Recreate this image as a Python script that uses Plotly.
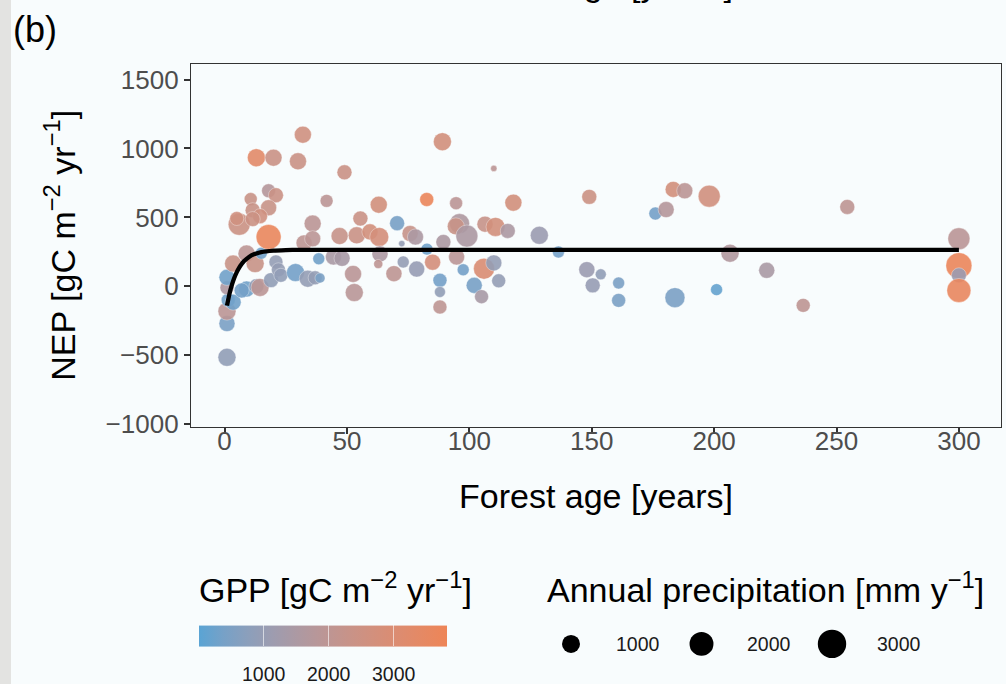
import plotly.graph_objects as go

# ---------------- data ----------------
forest_age = [1, 1, 1, 1.5, 3.5, 1, 1, 3.5, 9, 6, 12.5, 9, 7, 13, 14.5, 15, 18, 19, 21, 22,
              23, 29, 34, 37, 39, 38.5, 36, 32.5, 36, 44.5, 48, 47, 52.5, 53, 54, 55.5, 59.4, 63.2, 63, 63.5,
              62.8, 69.2, 70.5, 72.4, 73, 75.8, 78, 78.5, 82.7, 82.6, 85, 88, 88, 88, 89.4, 94.6, 96, 94.5,
              99, 97.5, 94.8, 102, 106, 110, 112, 105, 106.4, 110.7, 115.7, 110, 118, 89, 49, 32, 13, 20,
              30, 18, 21, 10.7, 18, 11.5, 41.7, 5, 14.5, 128.6, 136.4, 148, 153.7, 150.4, 161, 161, 184,
              201, 206.5, 221.5, 236.4, 300, 300, 300, 300, 149, 176, 180.4, 183.3, 188, 198, 254.4, 11.5]
nep = [-515, -270, -180, -100, -115, -10, 65, 165, 238, 450, 165, -20, -30, 0, -8, 240, 358, 45, 177, 120,
       80, 100, 55, 62, 60, 200, 455, 315, 345, 213, 203, 365, 90, -45, 370, 492, 395, 358, 592, 235,
       162, 92, 458, 310, 177, 383, 358, 125, 270, 630, 175, 44, -41, -150, 322, 603, 455, 435,
       365, 120, 213, 7, 128, 170, 40, -75, 451, 431, 402, 855, 607, 1049, 827, 1100, 933, 933,
       907, 693, 661, 633, 570, 552, 620, 492, 509, 370, 249, 121, 87, 7, 24, -102, -82,
       -24, 240, 116, -138, 345, 150, 80, -30, 649, 528, 557, 703, 693, 654, 576, 488]
gpp = [900, 450, 1950, 300, 300, 1600, 300, 2350, 1950, 2450, 2350, 300, 350, 900, 1950, 300, 3650, 900, 950, 950,
       900, 350, 950, 950, 450, 300, 1950, 2000, 1950, 1450, 1400, 2300, 1900, 1850, 2400, 2400, 2700, 2750, 2700, 1500,
       2000, 2000, 400, 950, 950, 2300, 1500, 1000, 300, 3700, 2750, 350, 900, 2000, 1500, 1950, 1550, 2350,
       1500, 350, 1900, 400, 3000, 950, 950, 1400, 2300, 2700, 1500, 1950, 2700, 2700, 2400, 2600, 3300, 2400,
       2400, 1750, 2400, 2350, 2350, 2350, 1950, 2600, 2600, 1100, 350, 1100, 900, 1000, 450, 450, 450,
       150, 1650, 1450, 2000, 1900, 3700, 1100, 3600, 2450, 350, 1750, 2700, 1950, 2650, 2000, 2450]
precip = [1000, 750, 1000, 530, 750, 530, 750, 870, 870, 1630, 1000, 750, 630, 630, 1000, 360, 2220, 630, 530, 530,
          530, 1000, 870, 530, 240, 360, 870, 750, 750, 750, 750, 870, 870, 1000, 870, 630, 750, 1140, 870, 750,
          190, 750, 630, 110, 360, 750, 750, 750, 360, 530, 750, 530, 290, 530, 630, 440, 1300, 870,
          1630, 360, 750, 750, 1460, 750, 530, 530, 750, 1140, 630, 110, 870, 1000, 630, 870, 1000, 870,
          870, 530, 630, 440, 750, 630, 440, 530, 630, 1000, 360, 750, 290, 630, 360, 530, 1300,
          360, 1000, 750, 530, 1630, 2440, 630, 2010, 630, 440, 750, 750, 750, 1630, 630, 630]

# fitted NEP–age curve
fit_age = [1, 2, 3, 4, 5, 6, 7, 8, 10, 12, 15, 20, 25, 30, 50, 300]
fit_nep = [-140, -55, 10, 62, 103, 136, 162, 183, 213, 232, 248, 259, 263, 265, 265, 265]

x_ticks = [0, 50, 100, 150, 200, 250, 300]
y_ticks = [-1000, -500, 0, 500, 1000, 1500]
gpp_ticks = [1000, 2000, 3000]
precip_legend = [1000, 2000, 3000]

# ---------------- styling ----------------
W, H = 1006, 684          # target picture; pixel positions below refer to it
H_LAYOUT = 698            # page height that gets photographed into 684 rows
VS = H_LAYOUT / H
BG = '#F8FCFD'
FONT = 'Liberation Sans, Arial, Helvetica, sans-serif'
GPP_MIN, GPP_MAX = 0, 3830
P_MIN, P_MAX = 100, 3300
LOW, HIGH = (90, 164, 212), (238, 133, 87)


def py(p):
    """pixel row in the target picture -> paper fraction"""
    return 1 - p / H


def size_of(p):
    t = max(0.0, (p - P_MIN) / (P_MAX - P_MIN))
    return 4.93 * (1 + 5 * t ** 0.5)


def srgb_to_lab(c):
    def lin(v):
        v = v / 255
        return v / 12.92 if v <= 0.04045 else ((v + 0.055) / 1.055) ** 2.4
    r, g, b = (lin(v) for v in c)
    X = (0.4124 * r + 0.3576 * g + 0.1805 * b) / 0.95047
    Y = (0.2126 * r + 0.7152 * g + 0.0722 * b)
    Z = (0.0193 * r + 0.1192 * g + 0.9505 * b) / 1.08883
    f = lambda t: t ** (1 / 3) if t > 0.008856 else 7.787 * t + 16 / 116
    fx, fy, fz = f(X), f(Y), f(Z)
    return 116 * fy - 16, 500 * (fx - fy), 200 * (fy - fz)


def lab_to_srgb(L, a, b):
    fy = (L + 16) / 116
    fx = fy + a / 500
    fz = fy - b / 200
    finv = lambda t: t ** 3 if t ** 3 > 0.008856 else (t - 16 / 116) / 7.787
    X, Y, Z = finv(fx) * 0.95047, finv(fy), finv(fz) * 1.08883
    r = 3.2406 * X - 1.5372 * Y - 0.4986 * Z
    g = -0.9689 * X + 1.8758 * Y + 0.0415 * Z
    bb = 0.0557 * X - 0.2040 * Y + 1.0570 * Z
    def gam(v):
        v = max(0.0, min(1.0, v))
        return 12.92 * v if v <= 0.0031308 else 1.055 * v ** (1 / 2.4) - 0.055
    return tuple(int(round(gam(v) * 255)) for v in (r, g, bb))


l0, l1 = srgb_to_lab(LOW), srgb_to_lab(HIGH)
colorscale = []
for i in range(11):
    t = i / 10
    lab = [l0[k] + (l1[k] - l0[k]) * t for k in range(3)]
    colorscale.append([t, 'rgb(%d,%d,%d)' % lab_to_srgb(*lab)])

fig = go.Figure()

fig.add_trace(go.Scatter(
    x=forest_age, y=nep, mode='markers',
    marker=dict(size=[size_of(p) for p in precip], sizemode='diameter',
                color=gpp, colorscale=colorscale, cmin=GPP_MIN, cmax=GPP_MAX,
                opacity=0.9, line=dict(width=0.7, color='rgba(255,255,255,0.55)'),
                showscale=True,
                colorbar=dict(orientation='h', x=199 / W, xanchor='left',
                              y=py(647) - 19 / H_LAYOUT, yanchor='bottom',
                              len=248, lenmode='pixels', thickness=21 * VS, thicknessmode='pixels',
                              outlinewidth=0, xpad=0, ypad=0,
                              tickvals=gpp_ticks, ticks='inside', ticklen=21 * VS, tickwidth=1,
                              tickcolor='rgba(255,255,255,0.6)', showticklabels=False)),
    showlegend=False, hoverinfo='skip'))

fig.add_trace(go.Scatter(x=fit_age, y=fit_nep, mode='lines',
                         line=dict(color='black', width=4.3, shape='spline', smoothing=0.6),
                         showlegend=False, hoverinfo='skip'))

# size legend keys
leg_x = [571 + i * 130.5 for i in range(len(precip_legend))]
fig.add_trace(go.Scatter(x=leg_x, y=[642] * len(leg_x), mode='markers', xaxis='x2', yaxis='y2',
                         marker=dict(size=[size_of(p) for p in precip_legend], sizemode='diameter',
                                     color='#000000', opacity=1, line=dict(width=0)),
                         showlegend=False, hoverinfo='skip'))

axis_common = dict(showgrid=False, zeroline=False, showline=True, linecolor='#333333', linewidth=1.3,
                   mirror=True, ticks='outside', ticklen=6, tickwidth=2, tickcolor='#333333',
                   tickfont=dict(family=FONT, size=26, color='#4D4D4D'))

fig.update_layout(
    width=W, height=H_LAYOUT, autosize=False, margin=dict(l=0, r=0, t=0, b=0),
    paper_bgcolor=BG, plot_bgcolor=BG,
    xaxis=dict(domain=[191 / W, 1001 / W], range=[-13.7, 317.2], tickvals=x_ticks,
               ticklabelstandoff=-15, **axis_common),
    yaxis=dict(domain=[py(425.7), py(63.5)], range=[-1020, 1615], tickvals=y_ticks, **axis_common),
    xaxis2=dict(domain=[530 / W, 1], range=[530, 1006], visible=False, anchor='y2', fixedrange=True),
    yaxis2=dict(domain=[py(684), py(584)], range=[684, 584], visible=False, anchor='x2', fixedrange=True),
    shapes=[dict(type='rect', xref='paper', yref='paper', x0=0, x1=11 / W, y0=0, y1=1,
                 fillcolor='#E3E3E1', line=dict(width=0), layer='below')],
)

ann = []
title_font = dict(family=FONT, size=34, color='black')
ann.append(dict(text='Forest age [years]', xref='paper', yref='paper', x=596 / W, y=py(495),
                xanchor='center', yanchor='middle', showarrow=False, font=title_font))
ann.append(dict(text='Forest age [years]', xref='paper', yref='paper', x=596 / W, y=py(-16),
                xanchor='center', yanchor='middle', showarrow=False, font=title_font))
ann.append(dict(text='NEP [gC m<sup>\u22122</sup> yr<sup>\u22121</sup>]', xref='paper', yref='paper',
                x=60 / W, y=py(245), xanchor='center', yanchor='middle', textangle=-90,
                showarrow=False, font=title_font))
ann.append(dict(text='(b)', xref='paper', yref='paper', x=11 / W, y=py(29),
                xanchor='left', yanchor='middle', showarrow=False,
                font=dict(family=FONT, size=36, color='black')))
ann.append(dict(text='GPP [gC m<sup>\u22122</sup> yr<sup>\u22121</sup>]', xref='paper', yref='paper',
                x=197 / W, y=py(586), xanchor='left', yanchor='middle', showarrow=False,
                font=title_font))
ann.append(dict(text='Annual precipitation [mm y<sup>\u22121</sup>]', xref='paper', yref='paper',
                x=545 / W, y=py(586), xanchor='left', yanchor='middle', showarrow=False,
                font=title_font))
label_font = dict(family=FONT, size=19.5, color='#1A1A1A')
for v in gpp_ticks:
    xp = 199.3 + (v - GPP_MIN) / (GPP_MAX - GPP_MIN) * 248
    ann.append(dict(text=str(v), xref='paper', yref='paper', x=xp / W, y=py(672),
                    xanchor='center', yanchor='middle', showarrow=False, font=label_font))
for xv, v in zip(leg_x, precip_legend):
    ann.append(dict(text=str(v), xref='x2', yref='y2', x=xv + 43, y=642,
                    xanchor='left', yanchor='middle', showarrow=False, font=label_font))
fig.update_layout(annotations=ann)

fig.write_html('out.html', config={'responsive': False})
